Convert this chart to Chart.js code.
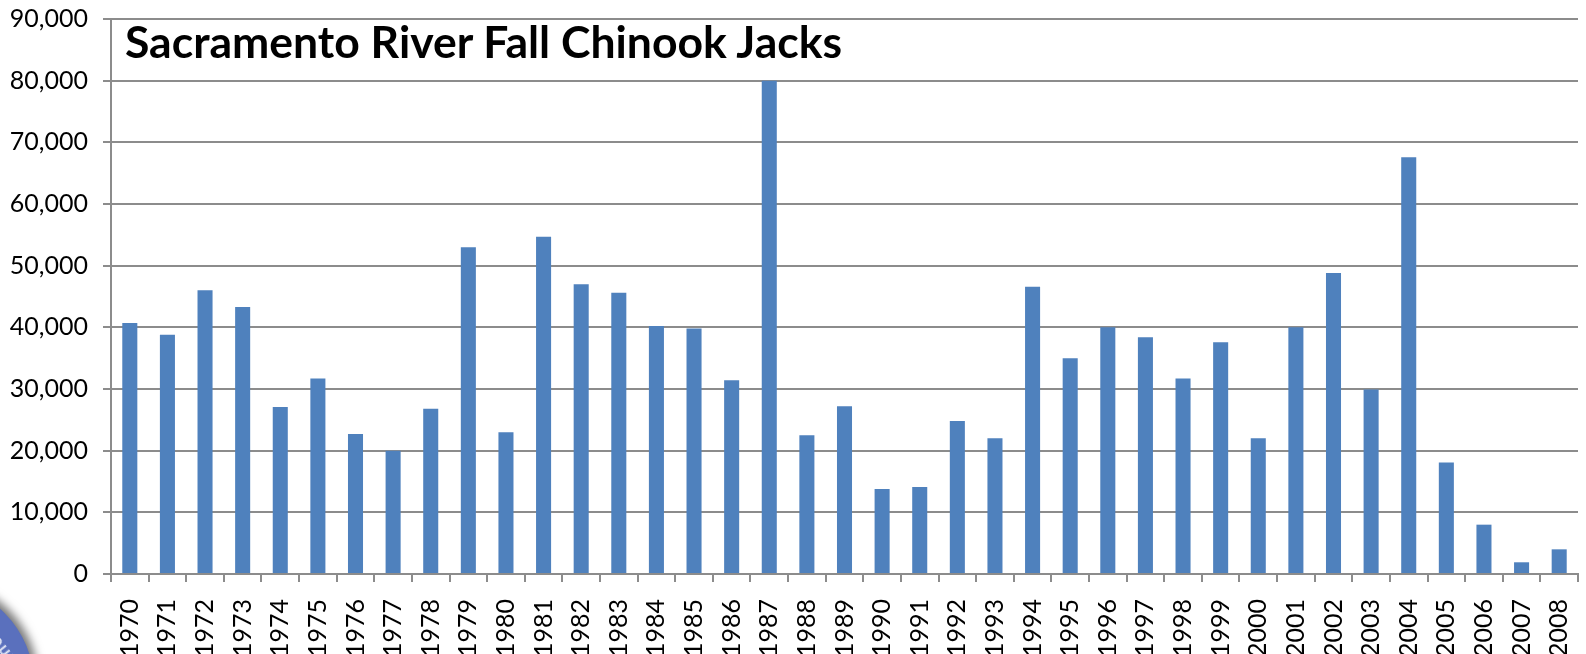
<!DOCTYPE html>
<html>
<head>
<meta charset="utf-8">
<style>
  html, body { margin: 0; padding: 0; background: #fff; overflow: hidden; }
  #wrap { position: relative; width: 1586px; height: 654px; overflow: hidden; }
  #chart { position: absolute; left: 0; top: 0; }
  #title { position: absolute; left: 125px; top: 14px; font: bold 44.5px Lato, sans-serif; color: #000; white-space: nowrap; }
  #seal {
    position: absolute; left: -166px; top: 584px; width: 200px; height: 200px; border-radius: 50%;
    background: #5a70bd; box-shadow: 3px -3px 10px 1px #777;
  }
  #sealText {
    position: absolute; left: -6px; top: 630px; transform: rotate(52deg); transform-origin: left center;
    font: bold 13px "Liberation Sans", sans-serif; letter-spacing: 2px; color: #e8ecf8; filter: blur(0.6px);
  }
</style>
</head>
<body>
<div id="wrap">
  <canvas id="chart" width="1586" height="654"></canvas>
  <div id="seal"></div>
  <div id="sealText">OUN</div>
  <div id="title">Sacramento River Fall Chinook Jacks</div>
</div>
<script src="https://cdn.jsdelivr.net/npm/chart.js@4"></script>
<script>
const years = ["1970","1971","1972","1973","1974","1975","1976","1977","1978","1979",
  "1980","1981","1982","1983","1984","1985","1986","1987","1988","1989",
  "1990","1991","1992","1993","1994","1995","1996","1997","1998","1999",
  "2000","2001","2002","2003","2004","2005","2006","2007","2008"];
const jacks = [40700,38800,46000,43300,27100,31700,22700,20000,26800,53000,
  23000,54700,47000,45600,40200,39800,31400,80000,22500,27200,
  13800,14100,24800,22000,46600,35000,40000,38400,31700,37600,
  22000,40000,48800,29900,67600,18100,8000,1900,4000];
const yMax = 90000;
const yStep = 10000;

const axisGray = "#8c8c8c";
const labelFont = { family: "Lato, sans-serif", size: 25 };

new Chart(document.getElementById("chart").getContext("2d"), {
  type: "bar",
  data: {
    labels: years,
    datasets: [{
      data: jacks,
      backgroundColor: "#4f81bd",
      barPercentage: 0.4,
      categoryPercentage: 1,
    }],
  },
  options: {
    responsive: false,
    animation: false,
    layout: { padding: { top: 19, right: 8, bottom: 0, left: 0 } },
    plugins: { legend: { display: false }, tooltip: { enabled: false } },
    scales: {
      y: {
        min: 0,
        max: yMax,
        afterFit: (axis) => { axis.width = 111; axis.paddingTop = 0; axis.paddingBottom = 0; },
        border: { color: axisGray, width: 2 },
        grid: { color: axisGray, lineWidth: 2, tickLength: 8 },
        ticks: {
          stepSize: yStep,
          color: "#000",
          font: labelFont,
          padding: 15,
          callback: (v) => v.toLocaleString("en-US"),
        },
      },
      x: {
        afterFit: (axis) => { axis.height = 80; axis.paddingLeft = 0; axis.paddingRight = 0; },
        border: { color: axisGray, width: 2 },
        grid: { display: true, drawOnChartArea: false, color: axisGray, lineWidth: 2, tickLength: 8 },
        ticks: {
          color: "#000",
          font: labelFont,
          minRotation: 90,
          maxRotation: 90,
          autoSkip: false,
          padding: 17,
        },
      },
    },
  },
});
</script>
</body>
</html>
